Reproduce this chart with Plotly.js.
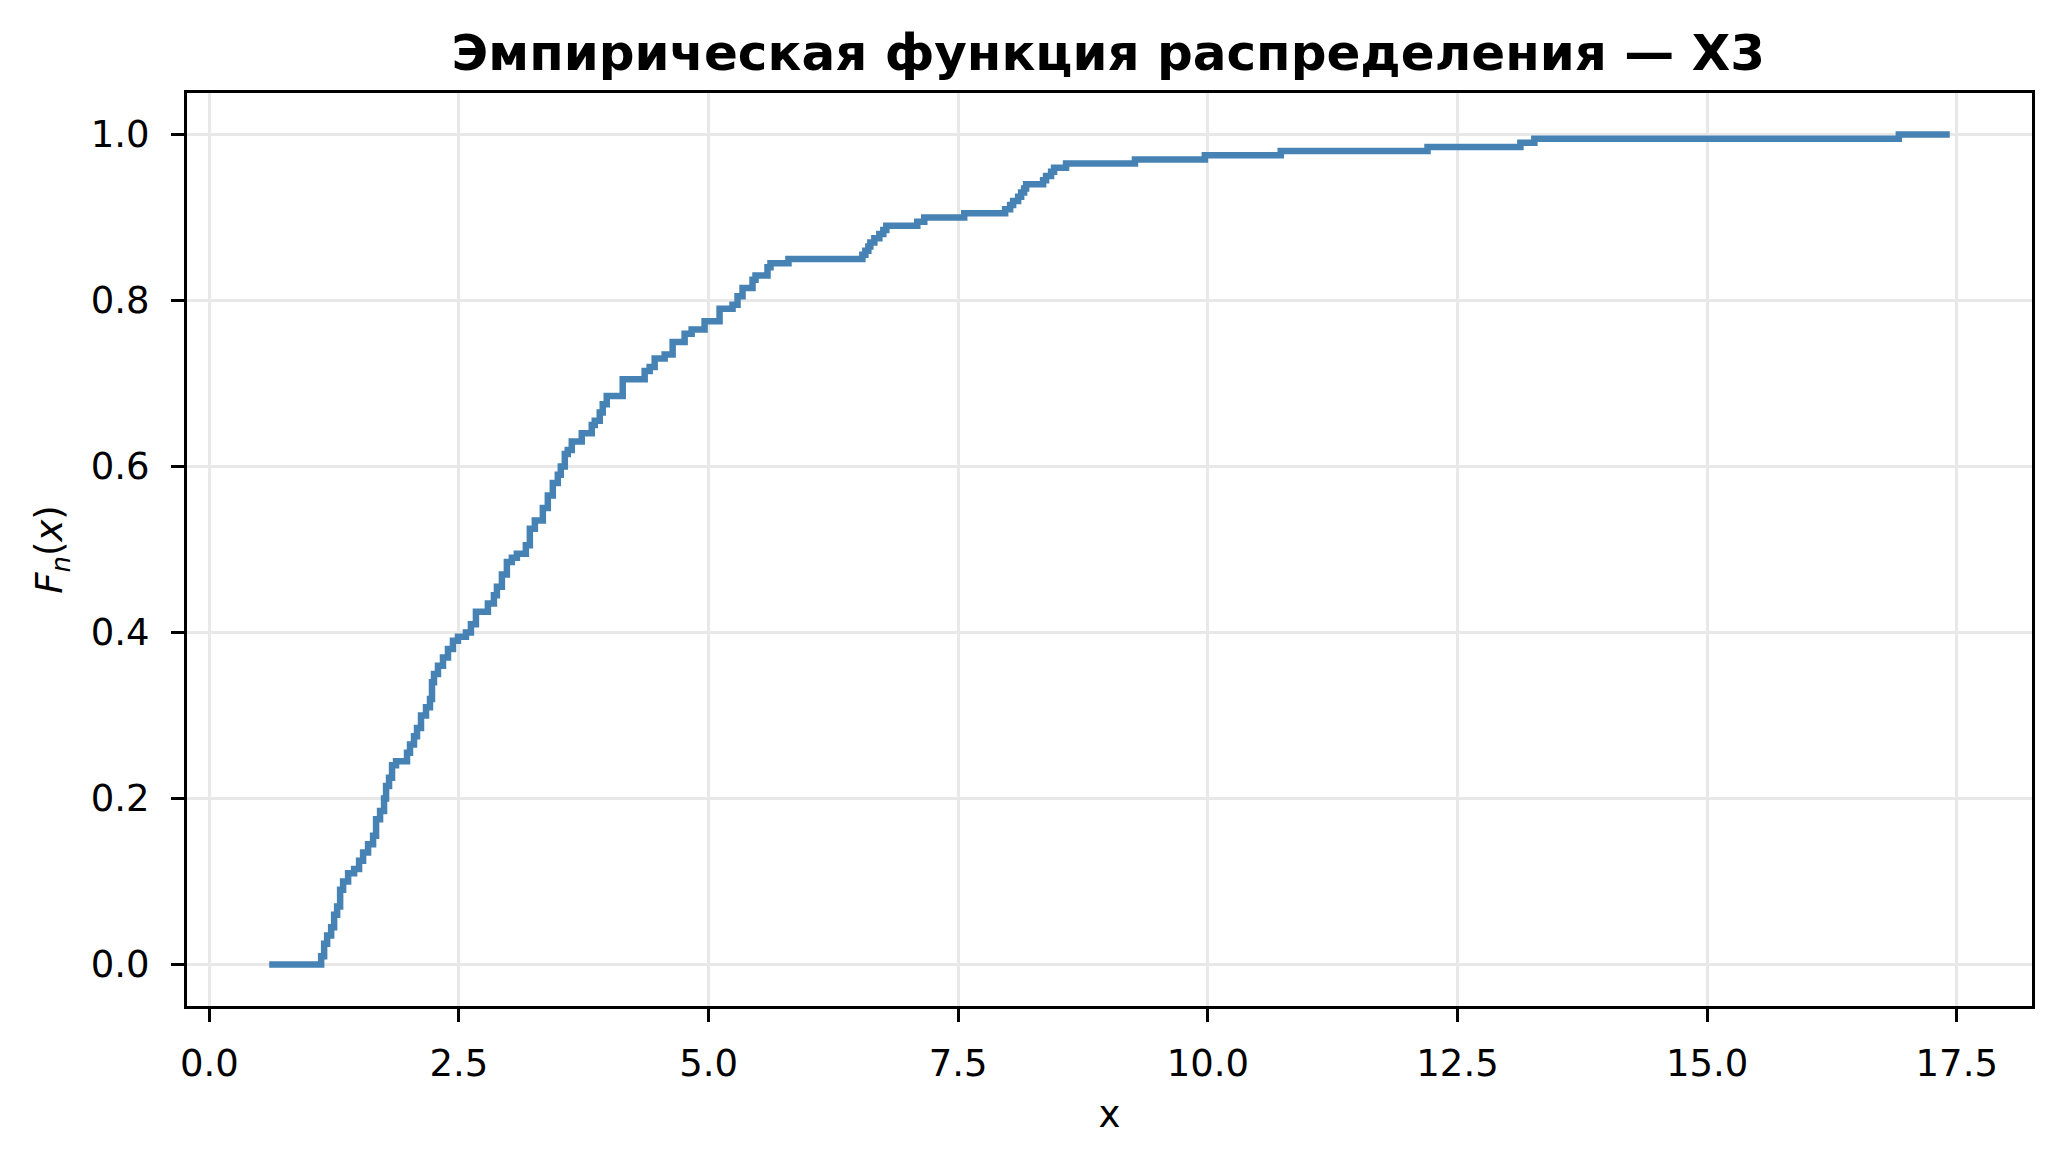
<!DOCTYPE html>
<html>
<head>
<meta charset="utf-8">
<script src="https://cdn.plot.ly/plotly-3.0.1.min.js"></script>
<style>
  html, body { margin: 0; padding: 0; background: #ffffff; }
  #chart { width: 2062px; height: 1166px; }
</style>
</head>
<body>
<div id="chart"></div>
<script>
// Breakpoints of the empirical distribution function (x) and value after each jump (F)
const stepX = [0.60, 1.12, 1.15, 1.18, 1.22, 1.25, 1.28, 1.31, 1.34, 1.39, 1.45, 1.50, 1.54, 1.59, 1.64,
  1.67, 1.71, 1.75, 1.77, 1.80, 1.83, 1.87, 1.98, 2.01, 2.05, 2.08, 2.12, 2.17, 2.21, 2.23, 2.25,
  2.29, 2.34, 2.39, 2.44, 2.49, 2.57, 2.62, 2.67, 2.79, 2.85, 2.88, 2.93, 2.98, 3.03, 3.08, 3.17,
  3.21, 3.26, 3.34, 3.39, 3.44, 3.49, 3.52, 3.56, 3.59, 3.63, 3.73, 3.83, 3.86, 3.91, 3.94, 3.98,
  4.14, 4.36, 4.41, 4.46, 4.56, 4.64, 4.76, 4.83, 4.96, 5.11, 5.24, 5.29, 5.34, 5.44, 5.47, 5.59,
  5.62, 5.80, 6.54, 6.57, 6.60, 6.62, 6.66, 6.71, 6.75, 6.78, 7.09, 7.16, 7.56, 7.97, 8.02, 8.05,
  8.10, 8.13, 8.16, 8.18, 8.35, 8.38, 8.43, 8.46, 8.58, 9.27, 9.97, 10.73, 12.20, 13.13, 13.27,
  16.92, 17.43];
const stepF = [0.000, 0.010, 0.025, 0.035, 0.045, 0.060, 0.070, 0.090, 0.100, 0.110, 0.115, 0.125, 0.135, 0.145, 0.155,
  0.175, 0.185, 0.200, 0.215, 0.225, 0.240, 0.245, 0.255, 0.265, 0.275, 0.285, 0.300, 0.310, 0.320, 0.340, 0.350,
  0.360, 0.370, 0.380, 0.390, 0.395, 0.400, 0.410, 0.425, 0.435, 0.445, 0.455, 0.470, 0.485, 0.490, 0.495, 0.505,
  0.525, 0.535, 0.550, 0.565, 0.580, 0.590, 0.600, 0.615, 0.620, 0.630, 0.640, 0.650, 0.655, 0.665, 0.675, 0.685,
  0.705, 0.715, 0.720, 0.730, 0.735, 0.750, 0.760, 0.765, 0.775, 0.790, 0.795, 0.805, 0.815, 0.825, 0.830, 0.840,
  0.845, 0.850, 0.855, 0.860, 0.865, 0.870, 0.875, 0.880, 0.885, 0.890, 0.895, 0.900, 0.905, 0.910, 0.915, 0.920,
  0.925, 0.930, 0.935, 0.940, 0.945, 0.950, 0.955, 0.960, 0.965, 0.970, 0.975, 0.980, 0.985, 0.990, 0.995,
  1.000, 1.000];

const xTickVals = [0, 2.5, 5, 7.5, 10, 12.5, 15, 17.5];
const xTickText = ['0.0', '2.5', '5.0', '7.5', '10.0', '12.5', '15.0', '17.5'];
const yTickVals = [0, 0.2, 0.4, 0.6, 0.8, 1.0];
const yTickText = ['0.0', '0.2', '0.4', '0.6', '0.8', '1.0'];

const titleText = '<b>Эмпирическая функция распределения — X3</b>';
const xLabel = 'x';
const yLabel = '<i>F</i><sub><i>n</i></sub>(<i>x</i>)';

const FONT = 'DejaVu Sans, sans-serif';

const trace = {
  x: stepX,
  y: stepF,
  type: 'scatter',
  mode: 'lines',
  line: { shape: 'hv', color: '#4682B4', width: 6.5 },
  hoverinfo: 'x+y'
};

const axisCommon = {
  showline: true,
  linecolor: '#000000',
  linewidth: 3,
  mirror: true,
  ticks: 'outside',
  ticklen: 13,
  tickwidth: 3,
  tickcolor: '#000000',
  showgrid: true,
  gridcolor: '#e8e8e8',
  gridwidth: 3,
  zeroline: false,
  tickfont: { family: FONT, size: 37, color: '#000000' }
};

const layout = {
  width: 2062,
  height: 1166,
  paper_bgcolor: '#ffffff',
  plot_bgcolor: '#ffffff',
  margin: { l: 187, r: 30, t: 93, b: 160 },
  showlegend: false,
  font: { family: FONT, color: '#000000' },
  title: {
    text: titleText,
    font: { family: FONT, size: 50, color: '#000000' },
    x: 0.5375, xref: 'container', xanchor: 'center',
    y: 1 - 52 / 1166, yref: 'container', yanchor: 'middle'
  },
  xaxis: Object.assign({}, axisCommon, {
    range: [-0.2235, 18.2535],
    tickmode: 'array',
    tickvals: xTickVals,
    ticktext: xTickText,
    ticklabelstandoff: 10,
    title: { text: xLabel, font: { family: FONT, size: 37, color: '#000000' }, standoff: 17 }
  }),
  yaxis: Object.assign({}, axisCommon, {
    range: [-0.05, 1.05],
    tickmode: 'array',
    tickvals: yTickVals,
    ticktext: yTickText,
    ticklabelstandoff: 14,
    title: { text: yLabel, font: { family: FONT, size: 37, color: '#000000' }, standoff: 17 }
  })
};

Plotly.newPlot('chart', [trace], layout, { displayModeBar: false, responsive: false });
</script>
</body>
</html>
